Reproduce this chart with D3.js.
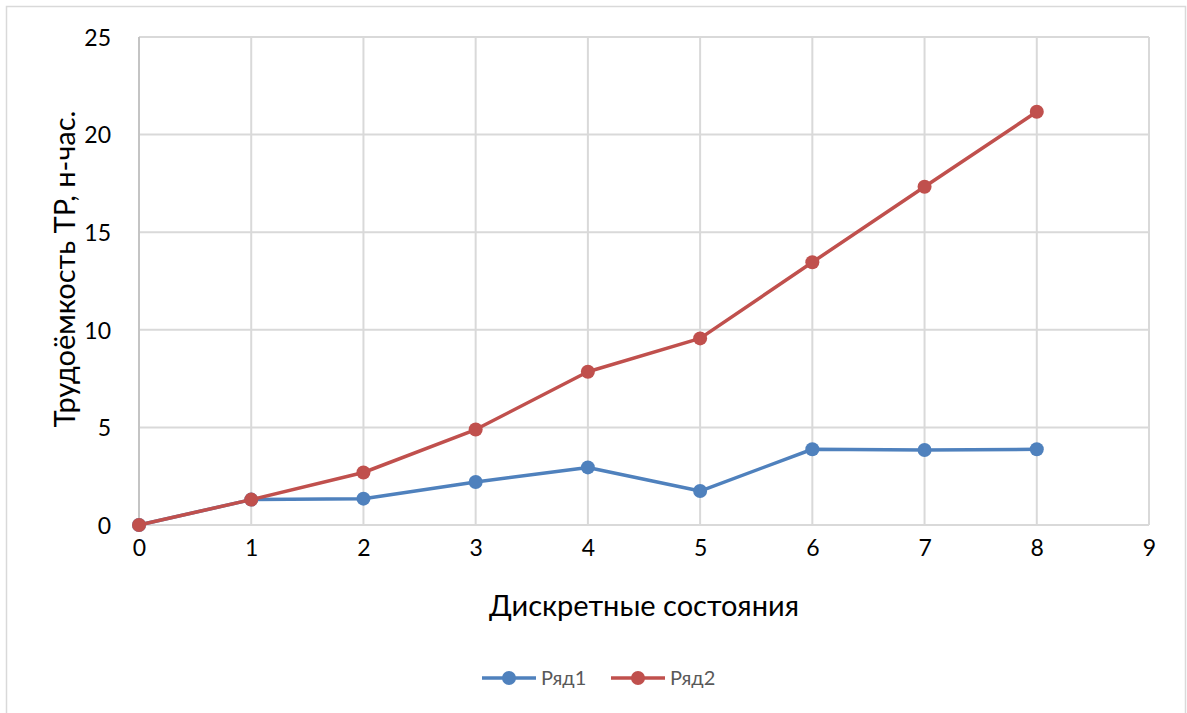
<!DOCTYPE html>
<html>
<head>
<meta charset="utf-8">
<script src="https://cdn.jsdelivr.net/npm/d3@7"></script>
<style>
  html, body { margin: 0; padding: 0; background: #fff; }
  svg { display: block; font-family: Lato, "Liberation Sans", sans-serif; }
</style>
</head>
<body>
<svg id="chart" width="1187" height="713"></svg>
<script>
// Дискретные состояния и трудоёмкость ТР по двум рядам
const states = [0, 1, 2, 3, 4, 5, 6, 7, 8];
const row1 = [0, 1.3, 1.35, 2.2, 2.95, 1.74, 3.88, 3.84, 3.88];
const row2 = [0, 1.3, 2.69, 4.89, 7.85, 9.56, 13.46, 17.33, 21.17];
const xTicks = [0, 1, 2, 3, 4, 5, 6, 7, 8, 9];
const yTicks = [0, 5, 10, 15, 20, 25];
const seriesNames = ["Ряд1", "Ряд2"];
const seriesColors = ["#4f81bd", "#c0504d"];

const svg = d3.select("#chart");
const plot = { left: 139, right: 1149, top: 37, bottom: 525 };

// Chart area border
svg.append("rect")
  .attr("x", 6.5).attr("y", 6.5)
  .attr("width", 1179).attr("height", 720)
  .attr("fill", "#fff").attr("stroke", "#d9d9d9").attr("stroke-width", 1.5);

const x = d3.scaleLinear().domain([0, 9]).range([plot.left, plot.right]);
const y = d3.scaleLinear().domain([0, 25]).range([plot.bottom, plot.top]);

// Gridlines
const grid = svg.append("g").attr("stroke", "#d9d9d9").attr("stroke-width", 2);
grid.selectAll("line.h").data(yTicks).join("line")
  .attr("x1", plot.left).attr("x2", plot.right)
  .attr("y1", d => y(d)).attr("y2", d => y(d));
grid.selectAll("line.v").data(xTicks).join("line")
  .attr("y1", plot.top).attr("y2", plot.bottom)
  .attr("x1", d => x(d)).attr("x2", d => x(d));
svg.append("line")
  .attr("x1", plot.left).attr("x2", plot.left)
  .attr("y1", plot.top).attr("y2", plot.bottom)
  .attr("stroke", "#c4c4c4").attr("stroke-width", 2);

// Axes (labels only)
const xAxis = svg.append("g")
  .attr("transform", `translate(0,${plot.bottom + 12})`)
  .call(d3.axisBottom(x).tickValues(xTicks).tickSize(0).tickFormat(d3.format("d")));
const yAxis = svg.append("g")
  .attr("transform", `translate(${plot.left - 25},0)`)
  .call(d3.axisLeft(y).tickValues(yTicks).tickSize(0).tickFormat(d3.format("d")));
[xAxis, yAxis].forEach(a => {
  a.select(".domain").remove();
  a.selectAll("text")
    .attr("font-family", "Lato, 'Liberation Sans', sans-serif")
    .attr("font-size", 23).attr("fill", "#000");
});
xAxis.selectAll("text").attr("dy", "0.71em");
yAxis.selectAll("text").attr("dx", 0).attr("dy", "0.36em");

// Axis titles
svg.append("text")
  .attr("x", x(4.5) + 0).attr("y", 616)
  .attr("text-anchor", "middle")
  .attr("font-size", 29).attr("fill", "#000")
  .text("Дискретные состояния");
svg.append("text")
  .attr("transform", `translate(75,${(plot.top + plot.bottom) / 2 - 12}) rotate(-90)`)
  .attr("text-anchor", "middle")
  .attr("font-size", 29).attr("fill", "#000")
  .text("Трудоёмкость ТР, н-час.");

// Series lines and markers
const seriesData = [row1, row2];
const line = d3.line().x((d, i) => x(states[i])).y(d => y(d));
seriesData.forEach((vals, s) => {
  const g = svg.append("g");
  g.append("path")
    .datum(vals)
    .attr("d", line)
    .attr("fill", "none")
    .attr("stroke", seriesColors[s])
    .attr("stroke-width", 3.5)
    .attr("stroke-linejoin", "round");
  g.selectAll("circle").data(vals).join("circle")
    .attr("cx", (d, i) => x(states[i]))
    .attr("cy", d => y(d))
    .attr("r", 7)
    .attr("fill", seriesColors[s]);
});

// Legend
const legend = svg.append("g").attr("transform", "translate(482,678)");
const legendX = [0, 129];
seriesNames.forEach((name, i) => {
  const g = legend.append("g").attr("transform", `translate(${legendX[i]},0)`);
  g.append("line").attr("x1", 0).attr("x2", 54).attr("y1", 0).attr("y2", 0)
    .attr("stroke", seriesColors[i]).attr("stroke-width", 3.5);
  g.append("circle").attr("cx", 27).attr("cy", 0).attr("r", 7).attr("fill", seriesColors[i]);
  g.append("text").attr("x", 59).attr("y", 0).attr("dy", "0.36em")
    .attr("font-size", 20).attr("fill", "#595959").text(name);
});
</script>
</body>
</html>
